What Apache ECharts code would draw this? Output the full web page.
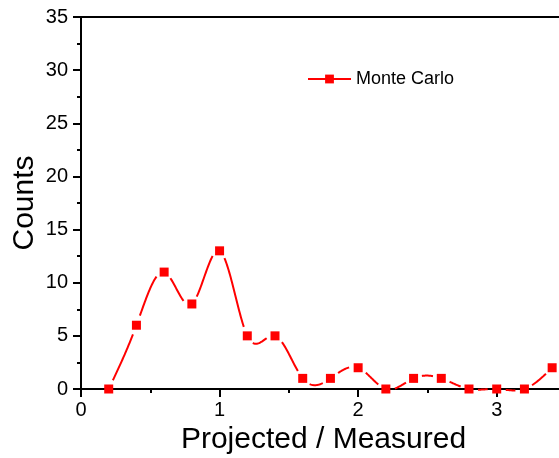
<!DOCTYPE html>
<html>
<head>
<meta charset="utf-8">
<script src="https://cdn.jsdelivr.net/npm/echarts@6/dist/echarts.min.js"></script>
<style>
  html, body { margin: 0; padding: 0; background: #fff; }
  #chart { width: 559px; height: 458px; }
</style>
</head>
<body>
<div id="chart"></div>
<script>
// Ratio bins (projected / measured) and Monte Carlo counts per bin
const ratios = [0.2, 0.4, 0.6, 0.8, 1.0, 1.2, 1.4, 1.6, 1.8, 2.0, 2.2, 2.4, 2.6, 2.8, 3.0, 3.2, 3.4];
const counts = [0, 6, 11, 8, 13, 5, 5, 1, 1, 2, 0, 1, 1, 0, 0, 0, 2];
const seriesName = 'Monte Carlo';
const xTitle = 'Projected / Measured';
const yTitle = 'Counts';

const font = 'Arial, "Liberation Sans", sans-serif';
const RED = '#ff0000';
const points = ratios.map((r, i) => [r, counts[i]]);

// Natural cubic spline second derivatives for the (x, y) data
function splineSecondDerivs(xs, ys) {
  const n = xs.length;
  const m = new Array(n).fill(0);
  const u = new Array(n).fill(0);
  for (let i = 1; i < n - 1; i++) {
    const sig = (xs[i] - xs[i - 1]) / (xs[i + 1] - xs[i - 1]);
    const p = sig * m[i - 1] + 2;
    m[i] = (sig - 1) / p;
    const d = (ys[i + 1] - ys[i]) / (xs[i + 1] - xs[i]) - (ys[i] - ys[i - 1]) / (xs[i] - xs[i - 1]);
    u[i] = (6 * d / (xs[i + 1] - xs[i - 1]) - sig * u[i - 1]) / p;
  }
  m[n - 1] = 0;
  for (let k = n - 2; k >= 0; k--) m[k] = m[k] * m[k + 1] + u[k];
  return m;
}
const secondDerivs = splineSecondDerivs(ratios, counts);

function splineAt(i, t) {
  const h = ratios[i + 1] - ratios[i];
  const a = 1 - t, b = t;
  return a * counts[i] + b * counts[i + 1] +
    ((a * a * a - a) * secondDerivs[i] + (b * b * b - b) * secondDerivs[i + 1]) * h * h / 6;
}

// Draws the spline curve in pixel space, leaving a small gap around each marker
const GAP = 8.5;
const STEPS = 40;
function renderSpline(params, api) {
  if (params.dataIndex !== 0) return null;
  const children = [];
  for (let i = 0; i < ratios.length - 1; i++) {
    const p0 = api.coord([ratios[i], counts[i]]);
    const p1 = api.coord([ratios[i + 1], counts[i + 1]]);
    const seg = [];
    for (let s = 0; s <= STEPS; s++) {
      const t = s / STEPS;
      const x = ratios[i] + t * (ratios[i + 1] - ratios[i]);
      const pt = api.coord([x, splineAt(i, t)]);
      const d0 = Math.hypot(pt[0] - p0[0], pt[1] - p0[1]);
      const d1 = Math.hypot(pt[0] - p1[0], pt[1] - p1[1]);
      if (d0 > GAP && d1 > GAP) seg.push(pt);
    }
    if (seg.length > 1) {
      children.push({
        type: 'polyline',
        shape: { points: seg },
        style: { stroke: RED, lineWidth: 2, fill: null, lineJoin: 'round' },
        silent: true
      });
    }
  }
  return { type: 'group', children };
}

const chart = echarts.init(document.getElementById('chart'), null, { renderer: 'canvas' });
chart.setOption({
  animation: false,
  backgroundColor: '#fff',
  grid: { left: 81, right: -7, top: 17, bottom: 69, containLabel: false, outerBoundsMode: 'none' },
  legend: {
    left: 307,
    top: 70,
    padding: 0,
    itemWidth: 43,
    itemHeight: 11,
    textStyle: { fontFamily: font, fontSize: 18, color: '#000' },
    itemStyle: { borderWidth: 0, color: RED },
    lineStyle: { color: RED, width: 2, opacity: 1 },
    data: [seriesName]
  },
  xAxis: [{
    type: 'value',
    min: 0,
    max: 3.5,
    interval: 1,
    name: xTitle,
    nameLocation: 'middle',
    nameGap: 36,
    nameMoveOverlap: false,
    nameTextStyle: { fontFamily: font, fontSize: 30, color: '#000' },
    axisLine: { show: true, onZero: false, lineStyle: { color: '#000', width: 2 } },
    axisTick: { show: true, inside: false, length: 8, lineStyle: { color: '#000', width: 2 } },
    minorTick: { show: true, splitNumber: 2, length: 4, lineStyle: { color: '#000', width: 2 } },
    axisLabel: { fontFamily: font, fontSize: 20, color: '#000', margin: 11, showMaxLabel: false,
      formatter: v => (Number.isInteger(v) ? String(v) : '') },
    splitLine: { show: false }
  }, {
    type: 'value',
    position: 'top',
    min: 0,
    max: 3.5,
    axisLine: { show: true, onZero: false, lineStyle: { color: '#000', width: 2 } },
    axisTick: { show: false },
    axisLabel: { show: false },
    splitLine: { show: false }
  }],
  yAxis: {
    type: 'value',
    min: 0,
    max: 35,
    interval: 5,
    name: yTitle,
    nameLocation: 'middle',
    nameGap: 41,
    nameMoveOverlap: false,
    nameTextStyle: { fontFamily: font, fontSize: 30, color: '#000' },
    axisLine: { show: true, lineStyle: { color: '#000', width: 2 } },
    axisTick: { show: true, inside: false, length: 8, lineStyle: { color: '#000', width: 2 } },
    minorTick: { show: true, splitNumber: 2, length: 4, lineStyle: { color: '#000', width: 2 } },
    axisLabel: { fontFamily: font, fontSize: 20, color: '#000', margin: 13 },
    splitLine: { show: false }
  },
  series: [{
    type: 'custom',
    data: points,
    encode: { x: 0, y: 1 },
    renderItem: renderSpline,
    clip: false,
    z: 2
  }, {
    name: seriesName,
    type: 'line',
    data: points,
    symbol: 'rect',
    symbolSize: 9,
    showAllSymbol: true,
    lineStyle: { color: RED, width: 2, opacity: 0 },
    itemStyle: { color: RED },
    clip: false,
    z: 3
  }]
});
</script>
</body>
</html>
